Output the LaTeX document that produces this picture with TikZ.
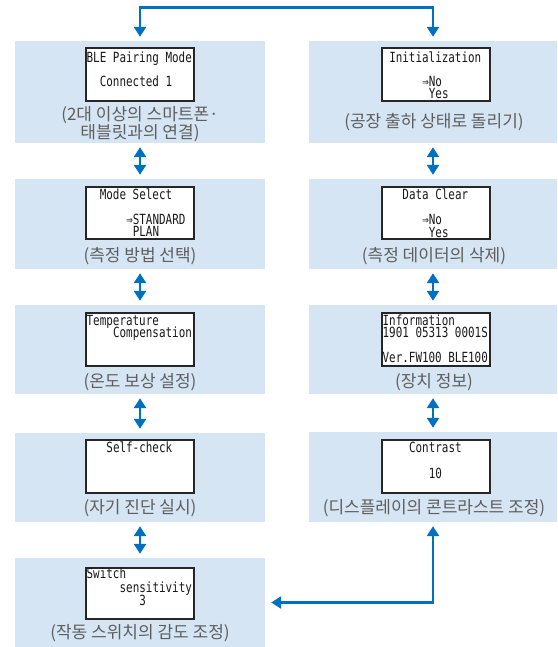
\documentclass[tikz,border=0pt]{standalone}
\usepackage{fontspec}
\usetikzlibrary{arrows.meta}
\newfontfamily\kofont{Noto Sans CJK KR}
\newfontfamily\lcdfont[FakeStretch=0.78]{DejaVu Sans Mono}
\definecolor{panelblue}{HTML}{D5E5F4}
\definecolor{arrowblue}{HTML}{0070C0}
\definecolor{captiongray}{HTML}{5E5E5E}

\tikzset{panel/.style = {rectangle, fill=panelblue, inner sep=0pt, minimum width=#1},
         panel/.default=250pt,
         screen/.style = {rectangle, draw=black!85, line width=1.1pt, fill=white,
                          minimum width=108pt, minimum height=#1, inner sep=0pt},
         screen/.default=53pt,
         lcd/.style = {anchor=base west, inner sep=0pt, text=black!90,
                       text height=9.5pt, text depth=1.5pt,
                       font=\lcdfont\fontsize{14}{14}\selectfont},
         caption/.style = {align=center, inner sep=0pt, text=captiongray,
                           font=\kofont\fontsize{17}{18}\selectfont},
         link/.style = {draw=arrowblue, line width=2.6pt, >={Triangle[width=12pt,length=10pt]}, <->,
                        shorten <=4pt, shorten >=4pt}
        }

\begin{document}
\begin{tikzpicture}[x=1pt, y=-1pt]
  \useasboundingbox (0,0) rectangle (557,647);

  % left column
  \node[panel, minimum height=102pt] (ble)   at (140,92)    {};
  \node[panel, minimum height=90pt]  (mode)  at (140,224)   {};
  \node[panel, minimum height=89pt]  (temp)  at (140,349.5) {};
  \node[panel, minimum height=89pt]  (check) at (140,477.5) {};
  \node[panel, minimum height=89pt]  (sens)  at (140,602.5) {};
  % right column
  \node[panel=248pt, minimum height=102pt] (init)     at (433,92)    {};
  \node[panel=248pt, minimum height=90pt]  (clear)    at (433,224)   {};
  \node[panel=248pt, minimum height=89pt]  (info)     at (433,349.5) {};
  \node[panel=248pt, minimum height=90pt]  (contrast) at (433,477)   {};

  % screens
  \node[screen] (ble-s)      at (140,74.5)  {};
  \node[screen=52pt] (mode-s) at (140,213)  {};
  \node[screen] (temp-s)     at (140,339.5) {};
  \node[screen] (check-s)    at (140,466.5) {};
  \node[screen=51pt] (sens-s) at (140,593.5) {};
  \node[screen] (init-s)     at (436,74.5)  {};
  \node[screen=52pt] (clear-s) at (436,213) {};
  \node[screen] (info-s)     at (436,339.5) {};
  \node[screen] (contrast-s) at (436,466.5) {};

  % screen texts
  \node[lcd] (ble-1) at ([shift={(1,15)}]ble-s.north west) {BLE Pairing Mode};
  \node[lcd] (ble-2) at ([shift={(14.2,39)}]ble-s.north west) {Connected 1};
  \node[lcd] (mode-1) at ([shift={(14.2,13)}]mode-s.north west) {Mode Select};
  \node[lcd] (mode-2) at ([shift={(40.6,38)}]mode-s.north west) {⇒STANDARD};
  \node[lcd] (mode-3) at ([shift={(47.2,50.5)}]mode-s.north west) {PLAN};
  \node[lcd] (temp-1) at ([shift={(1,13)}]temp-s.north west) {Temperature};
  \node[lcd] (temp-2) at ([shift={(27.4,25)}]temp-s.north west) {Compensation};
  \node[lcd] (check-1) at ([shift={(20.8,13)}]check-s.north west) {Self-check};
  \node[lcd] (sens-1) at ([shift={(1,11)}]sens-s.north west) {Switch};
  \node[lcd] (sens-2) at ([shift={(34,25)}]sens-s.north west) {sensitivity};
  \node[lcd] (sens-3) at ([shift={(53.8,38)}]sens-s.north west) {3};
  \node[lcd] (init-1) at ([shift={(7.6,15)}]init-s.north west) {Initialization};
  \node[lcd] (init-2) at ([shift={(40.6,39)}]init-s.north west) {⇒No};
  \node[lcd] (init-3) at ([shift={(47.2,51.5)}]init-s.north west) {Yes};
  \node[lcd] (clear-1) at ([shift={(20.8,13)}]clear-s.north west) {Data Clear};
  \node[lcd] (clear-2) at ([shift={(40.6,38)}]clear-s.north west) {⇒No};
  \node[lcd] (clear-3) at ([shift={(47.2,51)}]clear-s.north west) {Yes};
  \node[lcd] (info-1) at ([shift={(1,13)}]info-s.north west) {Information};
  \node[lcd] (info-2) at ([shift={(1,25.5)}]info-s.north west) {1901 05313 0001S};
  \node[lcd] (info-3) at ([shift={(1,50)}]info-s.north west) {Ver.FW100 BLE100};
  \node[lcd] (contrast-1) at ([shift={(27.4,13)}]contrast-s.north west) {Contrast};
  \node[lcd] (contrast-2) at ([shift={(47.2,39)}]contrast-s.north west) {10};

  % captions
  \node[caption] (ble-c)      at (140,124) {(2대 이상의 스마트폰·\\태블릿과의 연결)};
  \node[caption] (mode-c)     at (140,256) {(측정 방법 선택)};
  \node[caption] (temp-c)     at (140,382) {(온도 보상 설정)};
  \node[caption] (check-c)    at (140,508) {(자기 진단 실시)};
  \node[caption] (sens-c)     at (140,633) {(작동 스위치의 감도 조정)};
  \node[caption] (init-c)     at (434,122) {(공장 출하 상태로 돌리기)};
  \node[caption] (clear-c)    at (434,256) {(측정 데이터의 삭제)};
  \node[caption] (info-c)     at (434,382) {(장치 정보)};
  \node[caption] (contrast-c) at (434,508) {(디스플레이의 콘트라스트 조정)};

  % connectors
  \draw[link] (ble.north) -- ++(0,-33) -| (init.north);
  \draw[link] (ble) -- (mode);
  \draw[link] (mode) -- (temp);
  \draw[link] (temp) -- (check);
  \draw[link] (check) -- (sens);
  \draw[link] (init) -- (clear);
  \draw[link] (clear) -- (info);
  \draw[link] (info) -- (contrast);
  \draw[link, shorten >=6pt] (contrast.south) |- (sens.east);
\end{tikzpicture}
\end{document}
